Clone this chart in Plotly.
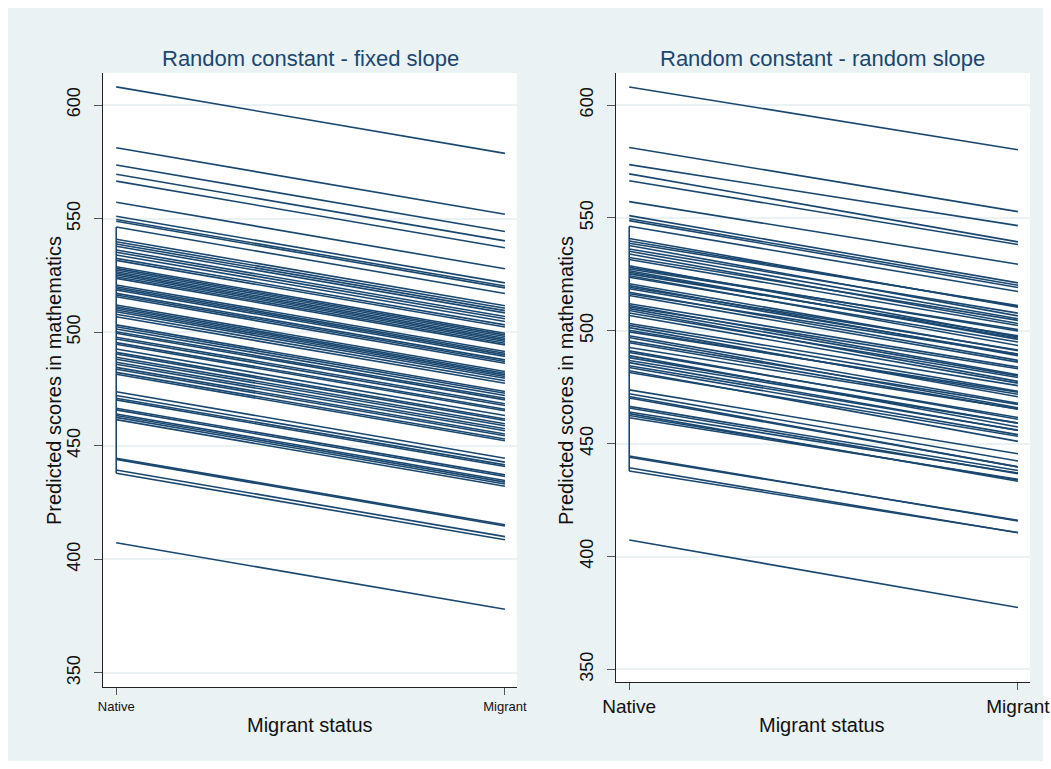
import plotly.graph_objects as go

# ---- data ----
x_categories = ["Native", "Migrant"]
x_values = [0, 1]

native_scores = [
    608.0, 581.2, 573.6, 569.5, 566.5, 557.2, 551.0, 549.6, 548.8, 546.3,
    540.9, 539.8, 538.8, 537.8, 536.2, 535.2, 534.0, 532.5, 531.6,
    528.8, 528.1, 527.4, 526.6, 525.9, 525.2, 524.4, 523.7,
    520.8, 520.0, 519.3, 518.6, 517.1, 516.4, 515.6,
    512.0, 511.2, 510.5, 509.8, 509.0, 507.9, 506.8,
    503.2, 502.4, 501.4, 500.2, 499.5, 497.8, 497.0, 495.4, 494.7,
    492.6, 491.1, 490.4, 489.0, 488.1, 486.8, 485.9, 484.5, 483.7, 482.3, 481.5,
    473.8, 472.1, 470.9, 470.2, 466.5, 465.8, 464.0, 463.3, 462.5, 461.5,
    444.5, 444.0, 439.3, 437.9, 407.3,
]

fixed_slope = -29.3

random_slopes = [
    -27.8, -28.4, -27.0, -30.1, -28.3, -27.7, -29.8, -29.4, -29.6, -28.9,
    -30.5, -29.0, -27.6, -31.2, -28.4, -29.9, -30.8, -27.9, -29.3,
    -31.5, -28.2, -26.9, -30.4, -29.1, -27.4, -30.9, -28.7,
    -29.6, -31.0, -27.8, -28.9, -30.2, -26.8, -29.5,
    -28.1, -30.7, -27.3, -29.8, -31.4, -28.6, -30.0,
    -27.5, -29.2, -30.6, -28.3, -26.7, -29.9, -31.1, -28.0, -29.4,
    -27.2, -30.3, -28.8, -31.6, -29.0, -27.7, -30.1, -28.5, -29.7, -31.3, -28.2,
    -28.3, -29.8, -31.2, -30.5, -28.4, -29.1, -27.0, -30.0, -28.6, -27.3,
    -28.8, -28.0, -28.8, -27.3, -29.9,
]

native_connector = [546.3, 437.9]   # vertical connection at "Native"

y_ticks = [350, 400, 450, 500, 550, 600]
titles = ["Random constant - fixed slope", "Random constant - random slope"]
x_title = "Migrant status"
y_title = "Predicted scores in mathematics"

# ---- style ----
NAVY = "#1A476F"
BG = "#EAF2F3"
FONT = "Liberation Sans, Arial, Helvetica, sans-serif"
W, H = 1051, 769

def px_x(a, b):
    return [a / W, b / W]

def px_y(top, bottom):
    return [(H - bottom) / H, (H - top) / H]

fig = go.Figure()

def build(slopes):
    xs, ys = [], []
    for a, s in zip(native_scores, slopes):
        xs += [x_values[0], x_values[1], None]
        ys += [a, a + s, None]
    return xs, ys

panels = [
    ("x", "y", [fixed_slope] * len(native_scores)),
    ("x2", "y2", random_slopes),
]
for xa, ya, slopes in panels:
    xs, ys = build(slopes)
    fig.add_trace(go.Scatter(x=xs, y=ys, mode="lines", xaxis=xa, yaxis=ya,
                             line=dict(color=NAVY, width=1.6), hoverinfo="skip",
                             showlegend=False))
    fig.add_trace(go.Scatter(x=[x_values[0], x_values[0]], y=native_connector,
                             mode="lines", xaxis=xa, yaxis=ya,
                             line=dict(color=NAVY, width=1.6), hoverinfo="skip",
                             showlegend=False))

common_x = dict(range=[-0.034, 1.031], tickvals=x_values, ticktext=x_categories,
                ticks="outside", ticklen=7, tickcolor="#555", tickwidth=1.2,
                showline=True, linecolor="#222", linewidth=1.2, showgrid=False,
                zeroline=False, automargin=False)
common_y = dict(tickvals=y_ticks, tickangle=-90, ticks="outside", ticklen=8,
                tickcolor="#555", tickwidth=1.2, showline=True, linecolor="#222",
                linewidth=1.2, showgrid=True, gridcolor=BG, gridwidth=1.5,
                zeroline=False, automargin=False, ticklabelstandoff=7,
                tickfont=dict(size=18, color="#111", family=FONT))

fig.update_layout(
    width=W, height=H,
    margin=dict(l=0, r=0, t=0, b=0, autoexpand=False),
    paper_bgcolor=BG, plot_bgcolor="white",
    font=dict(family=FONT, color="#111"),
    xaxis=dict(domain=px_x(103, 517), anchor="y",
               tickfont=dict(size=13, color="#111", family=FONT), **common_x),
    yaxis=dict(domain=px_y(73, 687), anchor="x", range=[343.8, 614.1], **common_y),
    xaxis2=dict(domain=px_x(616, 1030), anchor="y2",
                tickfont=dict(size=19, color="#111", family=FONT), **common_x),
    yaxis2=dict(domain=px_y(73, 682), anchor="x2", range=[344.4, 614.2], **common_y),
    showlegend=False,
)

def ann(text, x, y, size, color, angle=0):
    fig.add_annotation(text=text, x=x / W, y=(H - y) / H, xref="paper", yref="paper",
                       xanchor="center", yanchor="middle", showarrow=False,
                       textangle=angle, font=dict(size=size, color=color, family=FONT))

for cx, t in zip([310, 822], titles):
    ann(t, cx, 58, 22, NAVY)
for cx in [310, 822]:
    ann(x_title, cx, 725, 20, "#111")
for cx in [54, 566]:
    ann(y_title, cx, 381, 20, "#111", angle=-90)

# outer white frame
frame = [(0, 0, W, 8), (0, H - 8, W, H), (0, 0, 8, H), (W - 8, 0, W, H)]
for x0, y0, x1, y1 in frame:
    fig.add_shape(type="rect", xref="paper", yref="paper",
                  x0=x0 / W, x1=x1 / W, y0=(H - y1) / H, y1=(H - y0) / H,
                  fillcolor="white", line=dict(width=0), layer="below")

fig.write_html(
    "out.html",
    config={"displayModeBar": False},
    post_script="document.body.style.margin='0';document.body.style.overflow='hidden';"
                "document.documentElement.style.overflow='hidden';",
)
